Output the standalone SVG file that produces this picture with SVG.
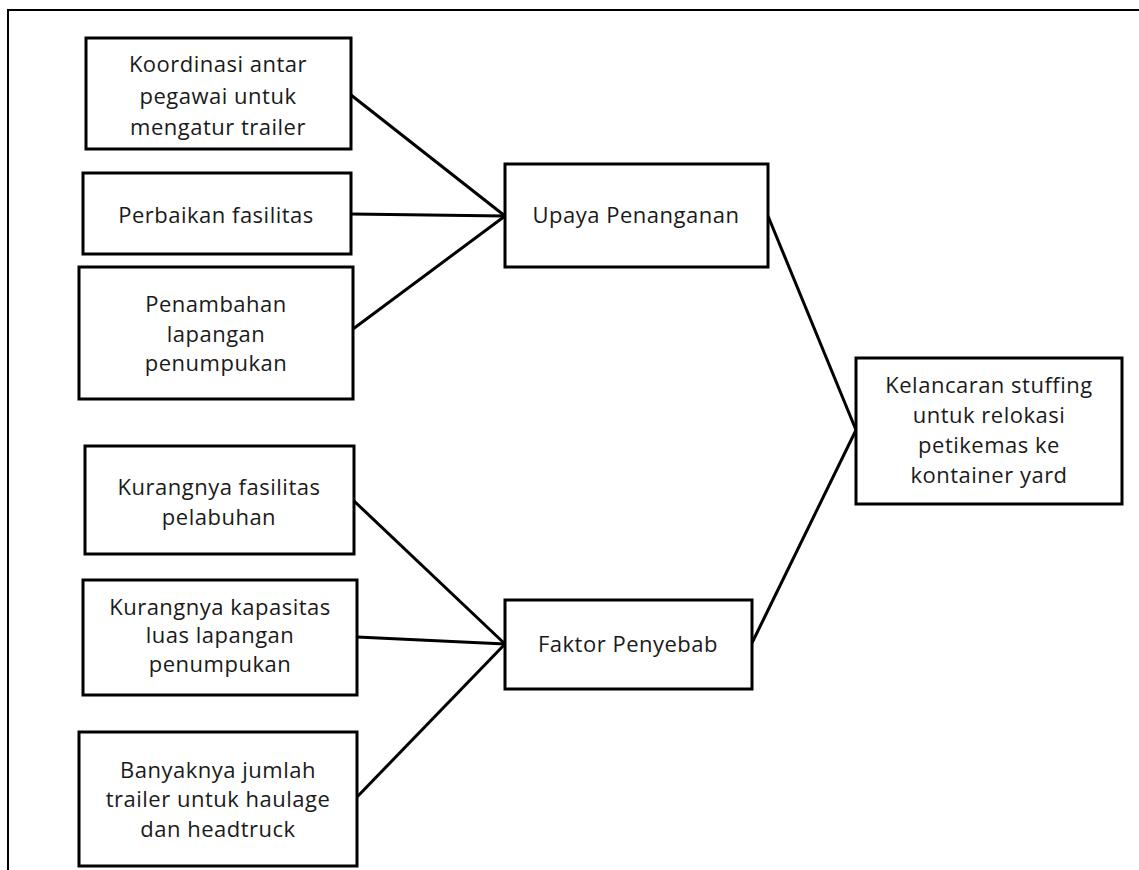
<svg xmlns="http://www.w3.org/2000/svg" width="1139" height="870" viewBox="0 0 1139 870">
<style>
.box{fill:#fff;stroke:#000;stroke-width:3}
.lbl{font-family:"Open Sans","Liberation Sans",sans-serif;font-size:22px;letter-spacing:0.5px;fill:#1a1a1a;text-anchor:middle}
.con{stroke:#000;stroke-width:3;fill:none}
.frame{stroke:#000;stroke-width:2;fill:none}
</style>
<rect width="1139" height="870" fill="#fff"/>
<path class="frame" d="M8,870 V10 H1139"/>
<g id="connectors">
<line class="con" x1="351" y1="95" x2="505" y2="216"/>
<line class="con" x1="351" y1="214" x2="505" y2="216"/>
<line class="con" x1="353" y1="329" x2="505" y2="216"/>
<line class="con" x1="354" y1="501" x2="505" y2="644"/>
<line class="con" x1="357" y1="637" x2="505" y2="644"/>
<line class="con" x1="357" y1="797" x2="505" y2="644"/>
<line class="con" x1="768" y1="216" x2="856" y2="430"/>
<line class="con" x1="752" y1="643" x2="856" y2="430"/>
</g>
<g id="n1"><rect class="box" x="86" y="38" width="265" height="111"/>
<text class="lbl" x="218" y="72">Koordinasi antar</text><text class="lbl" x="218" y="104">pegawai untuk</text><text class="lbl" x="218" y="135">mengatur trailer</text></g>
<g id="n2"><rect class="box" x="83" y="173" width="268" height="81"/>
<text class="lbl" x="216" y="223">Perbaikan fasilitas</text></g>
<g id="n3"><rect class="box" x="79" y="267" width="274" height="132"/>
<text class="lbl" x="216" y="312">Penambahan</text><text class="lbl" x="216" y="342">lapangan</text><text class="lbl" x="216" y="371">penumpukan</text></g>
<g id="n4"><rect class="box" x="85" y="446" width="269" height="108"/>
<text class="lbl" x="219" y="495">Kurangnya fasilitas</text><text class="lbl" x="219" y="525">pelabuhan</text></g>
<g id="n5"><rect class="box" x="83" y="580" width="274" height="115"/>
<text class="lbl" x="220" y="615">Kurangnya kapasitas</text><text class="lbl" x="220" y="643">luas lapangan</text><text class="lbl" x="220" y="672">penumpukan</text></g>
<g id="n6"><rect class="box" x="79" y="732" width="278" height="134"/>
<text class="lbl" x="218" y="778">Banyaknya jumlah</text><text class="lbl" x="218" y="807">trailer untuk haulage</text><text class="lbl" x="218" y="837">dan headtruck</text></g>
<g id="upaya"><rect class="box" x="505" y="164" width="263" height="103"/>
<text class="lbl" x="636" y="223">Upaya Penanganan</text></g>
<g id="faktor"><rect class="box" x="505" y="600" width="247" height="89"/>
<text class="lbl" x="628" y="652">Faktor Penyebab</text></g>
<g id="kelancaran"><rect class="box" x="856" y="358" width="266" height="146"/>
<text class="lbl" x="989" y="393">Kelancaran stuffing</text><text class="lbl" x="989" y="423">untuk relokasi</text><text class="lbl" x="989" y="453">petikemas ke</text><text class="lbl" x="989" y="483">kontainer yard</text></g>
</svg>
